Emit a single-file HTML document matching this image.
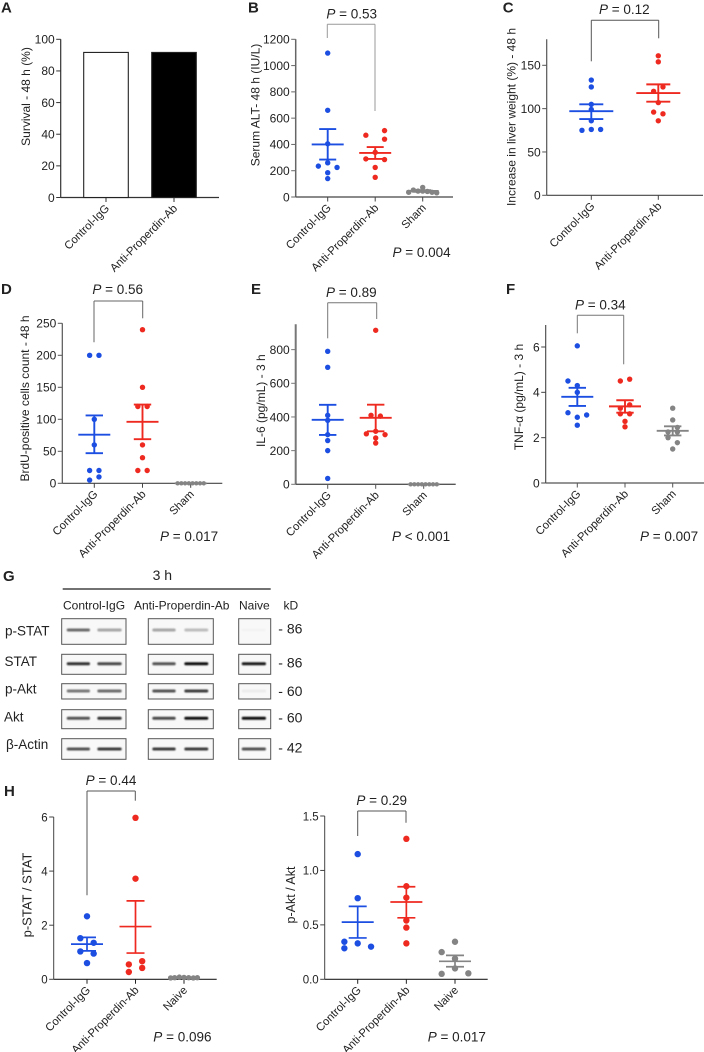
<!DOCTYPE html>
<html lang="en">
<head>
<meta charset="utf-8">
<title>Anti-Properdin antibody results</title>
<style>
html,body{margin:0;padding:0;background:#fff}
#figure{display:block;width:704px;height:1052px;font-family:"Liberation Sans","DejaVu Sans",sans-serif}
</style>
</head>
<body>
<svg id="figure" xmlns="http://www.w3.org/2000/svg" width="704" height="1052" viewBox="0 0 704 1052">
<defs><filter id="band-blur" x="-10%" y="-150%" width="120%" height="400%"><feGaussianBlur stdDeviation="0.9"/></filter></defs>
</svg>
<script>
// Panel A
const aCategories = ['Control-IgG', 'Anti-Properdin-Ab'];
const aValues = [91.7, 91.7];
const aTicks = [0, 20, 40, 60, 80, 100];
// Panel B
const bCategories = ['Control-IgG', 'Anti-Properdin-Ab', 'Sham'];
const bControl = [1095, 660, 405, 260, 235, 225, 185, 140];
const bControlSlots = [0, 0, 0, 0, -2, 2, 0, 0];
const bAnti = [505, 470, 440, 340, 290, 285, 225, 150];
const bAntiSlots = [2, -2, 2, 0, -2, 2, 0, 0];
const bSham = [36, 53, 45, 45, 73, 42, 36, 32];
const bShamSlots = [-3, -2, -1, 0, 0, 1, 2, 3];
const bMeans = [400, 335, 46];
const bLow = [285, 290, 40];
const bHigh = [517, 380, 52];
const bTicks = [0, 200, 400, 600, 800, 1000, 1200];
// Panel C
const cCategories = ['Control-IgG', 'Anti-Properdin-Ab'];
const cControl = [133, 125, 105, 99, 86, 76, 76, 75];
const cControlSlots = [0, 0, 0, 0, 0, 0, 2, -2];
const cAnti = [161, 154, 125, 120, 107, 96, 94, 86];
const cAntiSlots = [0, 0, 1, -1, 0, -1, 1, 0];
const cMeans = [97, 118];
const cLow = [88, 108];
const cHigh = [105, 128];
const cTicks = [0, 50, 100, 150];
// Panel D
const dCategories = ['Control-IgG', 'Anti-Properdin-Ab', 'Sham'];
const dControl = [200, 200, 100, 60, 20, 20, 10, 5];
const dControlSlots = [-1, 1, 0, 0, -1, 1, 1, -1];
const dAnti = [240, 150, 120, 120, 60, 40, 20, 20];
const dAntiSlots = [0, 0, -1, 1, 0, 0, -1, 1];
const dSham = [0, 0, 0, 0, 0, 0, 0, 0];
const dShamSlots = [-2.8, -2, -1.2, -0.4, 0.4, 1.2, 2, 2.8];
const dMeans = [76, 96, 0];
const dLow = [47, 69, 0];
const dHigh = [106, 123, 0];
const dTicks = [0, 50, 100, 150, 200, 250];
// Panel E
const eCategories = ['Control-IgG', 'Anti-Properdin-Ab', 'Sham'];
const eControl = [790, 695, 410, 380, 295, 260, 200, 35];
const eControlSlots = [0, 0, 0, 0, 0, 0, 0, 0];
const eAnti = [915, 410, 405, 315, 300, 295, 275, 245];
const eAntiSlots = [0, -1, 1, 0, -2, 2, 0, 0];
const eSham = [0, 0, 0, 0, 0, 0, 0, 0];
const eShamSlots = [-2.8, -2, -1.2, -0.4, 0.4, 1.2, 2, 2.8];
const eMeans = [383, 395, 0];
const eLow = [293, 315, 0];
const eHigh = [472, 473, 0];
const eTicks = [0, 200, 400, 600, 800];
// Panel F
const fCategories = ['Control-IgG', 'Anti-Properdin-Ab', 'Sham'];
const fControl = [6.05, 4.5, 4.3, 4.0, 3.1, 3.0, 2.9, 2.55];
const fControlSlots = [0, -2, 0, 0, -2, 2, 0, 0];
const fAnti = [4.58, 4.5, 3.45, 3.3, 3.05, 3.05, 2.72, 2.48];
const fAntiSlots = [1, -1, 1, -1, -1, 1, 0, 0];
const fSham = [3.3, 2.78, 2.45, 2.25, 2.25, 2.0, 1.78, 1.5];
const fShamSlots = [0, 0, 1, 1, -1, -1, 1, 0];
const fMeans = [3.8, 3.38, 2.3];
const fLow = [3.4, 3.1, 2.1];
const fHigh = [4.2, 3.65, 2.5];
const fTicks = [0, 2, 4, 6];
// Panel H, left
const h1Categories = ['Control-IgG', 'Anti-Properdin-Ab', 'Naive'];
const h1Control = [2.33, 1.52, 1.35, 1.03, 0.95, 0.6];
const h1ControlSlots = [0, -1, 1, -1, 1, 0];
const h1Anti = [5.97, 3.72, 0.67, 0.55, 0.42, 0.27];
const h1AntiSlots = [0, 0, 1, -1, 1, -1];
const h1Naive = [0.05, 0.06, 0.08, 0.07, 0.06, 0.05, 0.06];
const h1NaiveSlots = [-2, -1.4, -0.7, 0, 0.7, 1.4, 2];
const h1Means = [1.3, 1.95, 0.06];
const h1Low = [1.05, 0.97, 0.05];
const h1High = [1.55, 2.9, 0.07];
const h1Ticks = [0, 2, 4, 6];
// Panel H, right
const h2Categories = ['Control-IgG', 'Anti-Properdin-Ab', 'Naive'];
const h2Control = [1.15, 0.745, 0.345, 0.33, 0.3, 0.285];
const h2ControlSlots = [0, 0, -2, 0, 2, -2];
const h2Anti = [1.29, 0.855, 0.75, 0.54, 0.475, 0.33];
const h2AntiSlots = [0, 0, 0, 0, 0, 0];
const h2Naive = [0.345, 0.25, 0.19, 0.1, 0.05, 0.055];
const h2NaiveSlots = [0, -2, 0, 0, -2, 2];
const h2Means = [0.525, 0.71, 0.165];
const h2Low = [0.38, 0.565, 0.115];
const h2High = [0.67, 0.85, 0.22];
const h2Ticks = ['0.0', '0.5', '1.0', '1.5'];
// Panel G, band intensity per lane
const blotRowNames = ['p-STAT', 'STAT', 'p-Akt', 'Akt', 'β-Actin'];
const blotSizes = ['- 86', '- 86', '- 60', '- 60', '- 42'];
const pStatBands = [0.6, 0.35, 0.35, 0.25, 0.02];
const statBands = [0.85, 0.75, 0.7, 1, 0.95];
const pAktBands = [0.55, 0.6, 0.7, 0.8, 0.05];
const aktBands = [0.7, 0.85, 0.75, 1, 1];
const actinBands = [0.7, 0.8, 0.8, 0.8, 0.7];

const svg = document.getElementById('figure');
const NS = 'http://www.w3.org/2000/svg';
const BLUE = '#1c4ee2', RED = '#ee2a20', GRAY = '#848484';

function line(parent, x1, y1, x2, y2, color, w, name) {
  const el = document.createElementNS(NS, 'line');
  
  
  el.setAttribute('x1', x1); el.setAttribute('y1', y1);
  el.setAttribute('x2', x2); el.setAttribute('y2', y2);
  el.setAttribute('stroke', color); el.setAttribute('stroke-width', w);
  parent.appendChild(el);
  return el;
}
function text(parent, x, y, str, size, name, anchor, rotate, weight) {
  const el = document.createElementNS(NS, 'text');
  
  
  el.setAttribute('x', x); el.setAttribute('y', y);
  el.setAttribute('font-size', size);
  el.setAttribute('fill', '#222');
  el.setAttribute('text-anchor', anchor || 'start');
  if (rotate) el.setAttribute('transform', 'rotate(' + rotate + ' ' + x + ' ' + y + ')');
  if (weight) el.setAttribute('font-weight', weight);
  el.textContent = str;
  parent.appendChild(el);
  return el;
}
function pText(parent, x, y, rest, anchor, name) {
  const el = text(parent, x, y, '', 13.5, name, anchor);
  const p = document.createElementNS(NS, 'tspan');
  p.setAttribute('font-style', 'italic');
  p.textContent = 'P';
  el.appendChild(p);
  el.appendChild(document.createTextNode(' ' + rest));
  return el;
}
function group(name) {
  const g = document.createElementNS(NS, 'g');
  
  
  svg.appendChild(g);
  return g;
}
function axes(g, c, ticks, categories) {
  const yOf = v => c.y0 - (v / c.max) * (c.y0 - c.yTop);
  const xOf = i => c.x1 + i * c.step;
  line(g, c.x0, c.yTop, c.x0, c.y0, c.yColor, c.yW, 'y-axis');
  line(g, c.x0, c.y0, c.xEnd, c.y0, c.xColor, c.xW, 'x-axis');
  ticks.forEach(t => {
    const y = yOf(+t);
    line(g, c.x0 - 4.5, y, c.x0, y, c.yColor, 1, 'y-tick');
    text(g, c.x0 - 6, y + 4.3, String(t), c.tickSize || 12, 'y-tick-label', 'end');
  });
  categories.forEach((n, i) => {
    const x = xOf(i);
    line(g, x, c.y0, x, c.y0 + 4.5, c.xColor, 1, 'x-tick');
    text(g, x + 4, c.y0 + 11.5, n, 11.3, 'x-category-label', 'end', -45);
  });
  text(g, c.labelX, c.labelY, c.label, c.labelSize || 12, 'y-axis-title', 'middle', -90);
  return { xOf, yOf };
}
function series(g, scale, c, i, values, slots, color, r, name) {
  values.forEach((v, k) => {
    const dot = document.createElementNS(NS, 'circle');
    
    
    dot.setAttribute('cx', scale.xOf(i) + slots[k] * c.slot);
    dot.setAttribute('cy', scale.yOf(v));
    dot.setAttribute('r', r);
    dot.setAttribute('fill', color);
    g.appendChild(dot);
  });
}
function summary(g, scale, c, i, mean, low, high, color, name) {
  const x = scale.xOf(i);
  const w = c.lineW || 1.9;
  line(g, x, scale.yOf(low), x, scale.yOf(high), color, w, name + '-error-bar');
  line(g, x - c.capHalf, scale.yOf(high), x + c.capHalf, scale.yOf(high), color, w, name + '-error-cap-upper');
  line(g, x - c.capHalf, scale.yOf(low), x + c.capHalf, scale.yOf(low), color, w, name + '-error-cap-lower');
  line(g, x - c.meanHalf, scale.yOf(mean), x + c.meanHalf, scale.yOf(mean), color, w, name + '-mean-line');
}
function bracket(g, c) {
  const b = c.bracket;
  line(g, b.x1, b.top, b.x2, b.top, b.color, 1, 'bracket-top');
  line(g, b.x1, b.top, b.x1, b.y1, b.color, 1, 'bracket-left');
  line(g, b.x2, b.top, b.x2, b.y2, b.color, 1, 'bracket-right');
  pText(g, b.tx, b.ty, '= ' + b.p, 'middle', 'pairwise-p-value');
}
function panelLetter(g, x, y, s) {
  if (s) text(g, x, y, s, 15, 'panel-letter', 'start', 0, 'bold');
}
function scatterPanel(name, letter, c, ticks, categories, groups, means, lows, highs) {
  const g = group(name);
  panelLetter(g, letter[1], letter[2], letter[0]);
  const scale = axes(g, c, ticks, categories);
  groups.forEach((gr, i) => series(g, scale, c, i, gr[0], gr[1], gr[2], gr[3] || c.r, gr[4]));
  groups.forEach((gr, i) => summary(g, scale, c, i, means[i], lows[i], highs[i], gr[2], gr[4]));
  bracket(g, c);
  if (c.overall) pText(g, c.overall[0], c.overall[1], c.overall[2], 'start', 'overall-p-value');
}

// Panel A
(function () {
  const g = group('panel-a-survival-chart');
  panelLetter(g, 1, 12.5, 'A');
  const c = { x0: 60.7, y0: 197.5, yTop: 39.3, max: 100, xEnd: 219, x1: 106, step: 68, yColor: '#333', xColor: '#333', yW: 1.2, xW: 1.2,
    labelX: 30, labelY: 96.5, label: 'Survival - 48 h (%)' };
  const scale = axes(g, c, aTicks, aCategories);
  const fills = ['#fff', '#000'];
  aValues.forEach((v, i) => {
    const bar = document.createElementNS(NS, 'rect');
    
    
    bar.setAttribute('x', scale.xOf(i) - 22.3);
    bar.setAttribute('y', scale.yOf(v));
    bar.setAttribute('width', 44.6);
    bar.setAttribute('height', c.y0 - scale.yOf(v));
    bar.setAttribute('fill', fills[i]);
    bar.setAttribute('stroke', '#222');
    bar.setAttribute('stroke-width', 1.1);
    g.appendChild(bar);
  });
})();

scatterPanel('panel-b-serum-alt-chart', ['B', 248, 12.5], {
  x0: 295.7, y0: 197, yTop: 39.3, max: 1200, xEnd: 453, x1: 327.7, step: 47.5, slot: 4.67, r: 2.7,
  yColor: '#666', xColor: '#444', yW: 1.5, xW: 1.2, meanHalf: 16, capHalf: 8.5,
  labelX: 259.5, labelY: 105, label: 'Serum ALT- 48 h (IU/L)',
  bracket: { x1: 327.3, x2: 375, top: 24.3, y1: 38, y2: 111, color: '#999', tx: 351.7, ty: 18.5, p: '0.53' },
  overall: [392.5, 257, '= 0.004']
}, bTicks, bCategories, [
  [bControl, bControlSlots, BLUE, 0, 'control-igg'],
  [bAnti, bAntiSlots, RED, 0, 'anti-properdin-ab'],
  [bSham, bShamSlots, GRAY, 0, 'sham']
], bMeans, bLow, bHigh);

scatterPanel('panel-c-liver-weight-chart', ['C', 502.7, 12.5], {
  x0: 546.7, y0: 195.3, yTop: 39.3, max: 180, xEnd: 703, x1: 591.3, step: 67, slot: 4.67, r: 2.7,
  yColor: '#555', xColor: '#444', yW: 1.2, xW: 1.2, meanHalf: 22, capHalf: 12,
  labelX: 515.5, labelY: 117, label: 'Increase in liver weight (%) - 48 h',
  bracket: { x1: 591.3, x2: 658.7, top: 20.3, y1: 61.3, y2: 38.3, color: '#555', tx: 624.3, ty: 14, p: '0.12' }
}, cTicks, cCategories, [
  [cControl, cControlSlots, BLUE, 0, 'control-igg'],
  [cAnti, cAntiSlots, RED, 0, 'anti-properdin-ab']
], cMeans, cLow, cHigh);

scatterPanel('panel-d-brdu-chart', ['D', 1, 294], {
  x0: 62.3, y0: 483.3, yTop: 323.3, max: 250, xEnd: 222.3, x1: 94.3, step: 48.2, slot: 4.67, r: 2.7,
  yColor: '#555', xColor: '#444', yW: 1.2, xW: 1.2, meanHalf: 16, capHalf: 8.7,
  labelX: 29, labelY: 398.5, label: 'BrdU-positive cells count - 48 h',
  bracket: { x1: 94, x2: 142.7, top: 301, y1: 342.3, y2: 318.3, color: '#666', tx: 117.7, ty: 294, p: '0.56' },
  overall: [160, 541, '= 0.017']
}, dTicks, dCategories, [
  [dControl, dControlSlots, BLUE, 0, 'control-igg'],
  [dAnti, dAntiSlots, RED, 0, 'anti-properdin-ab'],
  [dSham, dShamSlots, GRAY, 2.2, 'sham']
], dMeans, dLow, dHigh);

scatterPanel('panel-e-il6-chart', ['E', 251, 294], {
  x0: 295.7, y0: 484.3, yTop: 324.3, max: 950.5, xEnd: 455.7, x1: 327.7, step: 48, slot: 4.67, r: 2.7,
  yColor: '#777', xColor: '#555', yW: 2, xW: 1.3, meanHalf: 16, capHalf: 8.7,
  labelX: 265, labelY: 400.7, label: 'IL-6 (pg/mL) - 3 h',
  bracket: { x1: 327.7, x2: 376.7, top: 302.7, y1: 338.3, y2: 319, color: '#777', tx: 351.3, ty: 297, p: '0.89' },
  overall: [392, 541, '< 0.001']
}, eTicks, eCategories, [
  [eControl, eControlSlots, BLUE, 0, 'control-igg'],
  [eAnti, eAntiSlots, RED, 0, 'anti-properdin-ab'],
  [eSham, eShamSlots, GRAY, 2.2, 'sham']
], eMeans, eLow, eHigh);

scatterPanel('panel-f-tnf-chart', ['F', 506, 294], {
  x0: 545.7, y0: 483, yTop: 325, max: 6.97, xEnd: 704, x1: 577.3, step: 47.7, slot: 4.67, r: 2.7,
  yColor: '#444', xColor: '#555', yW: 1.1, xW: 1.3, meanHalf: 16, capHalf: 8.7,
  labelX: 523, labelY: 397, label: 'TNF-α (pg/mL) - 3 h',
  bracket: { x1: 577.3, x2: 623.7, top: 315.3, y1: 333.3, y2: 364.3, color: '#777', tx: 600.3, ty: 309.5, p: '0.34' },
  overall: [640, 541, '= 0.007']
}, fTicks, fCategories, [
  [fControl, fControlSlots, BLUE, 0, 'control-igg'],
  [fAnti, fAntiSlots, RED, 0, 'anti-properdin-ab'],
  [fSham, fShamSlots, GRAY, 0, 'sham']
], fMeans, fLow, fHigh);

// Panel G: western blots
(function () {
  const g = group('panel-g-western-blots');
  panelLetter(g, 3, 581, 'G');
  text(g, 162.3, 580, '3 h', 14, 'time-point-label', 'middle');
  line(g, 62.7, 589, 270.7, 589, '#444', 1.4, 'time-point-rule');
  text(g, 63, 609.3, 'Control-IgG', 12, 'lane-group-control-igg');
  text(g, 134, 609.3, 'Anti-Properdin-Ab', 12, 'lane-group-anti-properdin-ab');
  text(g, 239, 609.3, 'Naive', 12, 'lane-group-naive');
  text(g, 283.5, 609.3, 'kD', 12, 'kilodalton-header');
  const boxes = [[618.7, 644.3], [654.3, 674.3], [683.7, 699], [709.7, 728.7], [738.7, 759.3]];
  const cols = [[61.7, 126], [148.3, 213.3], [238.7, 270.7]];
  const lanes = [[66.7, 90, 0], [97.3, 121.7, 0], [152.3, 175.7, 1], [184.3, 208.3, 1], [241.7, 266, 2]];
  const bandY = [630, 663.7, 691, 718.3, 749];
  const labelY = [635.7, 666, 693.7, 721.7, 749];
  const sizeY = [633.3, 667.3, 696, 722.7, 752.3];
  const labelX = [5, 4.5, 5, 4, 6];
  const intensities = [pStatBands, statBands, pAktBands, aktBands, actinBands];
  blotRowNames.forEach((n, r) => {
    text(g, labelX[r], labelY[r], n, 13.5, 'blot-row-label');
    text(g, 278.3, sizeY[r], blotSizes[r], 14, 'molecular-weight-label');
    cols.forEach(col => {
      const box = document.createElementNS(NS, 'rect');
      
      
      box.setAttribute('x', col[0]);
      box.setAttribute('y', boxes[r][0]);
      box.setAttribute('width', col[1] - col[0]);
      box.setAttribute('height', boxes[r][1] - boxes[r][0]);
      box.setAttribute('fill', '#f8f8f8');
      box.setAttribute('stroke', '#555');
      box.setAttribute('stroke-width', 1);
      g.appendChild(box);
    });
    lanes.forEach((lane, k) => {
      const band = document.createElementNS(NS, 'rect');
      
      
      band.setAttribute('x', lane[0]);
      band.setAttribute('y', bandY[r] - 1.5);
      band.setAttribute('width', lane[1] - lane[0]);
      band.setAttribute('height', 3);
      band.setAttribute('rx', 1.5);
      band.setAttribute('fill', '#111');
      band.setAttribute('opacity', intensities[r][k]);
      band.setAttribute('filter', 'url(#band-blur)');
      g.appendChild(band);
    });
  });
})();

scatterPanel('panel-h-pstat-chart', ['H', 4, 796], {
  x0: 53.7, y0: 979.3, yTop: 817, max: 6, xEnd: 216.7, x1: 87, step: 48.5, slot: 6.67, r: 3.2,
  yColor: '#444', xColor: '#222', yW: 1, xW: 1.2, meanHalf: 16, capHalf: 9, lineW: 1.7, tickSize: 11.5,
  labelX: 31.5, labelY: 895, label: 'p-STAT / STAT', labelSize: 13,
  bracket: { x1: 87, x2: 135.3, top: 791, y1: 895.3, y2: 800.7, color: '#555', tx: 111, ty: 785, p: '0.44' },
  overall: [153.3, 1041.7, '= 0.096']
}, h1Ticks, h1Categories, [
  [h1Control, h1ControlSlots, BLUE, 0, 'control-igg'],
  [h1Anti, h1AntiSlots, RED, 0, 'anti-properdin-ab'],
  [h1Naive, h1NaiveSlots, GRAY, 2.7, 'naive']
], h1Means, h1Low, h1High);

scatterPanel('panel-h-pakt-chart', ['', 300, 796], {
  x0: 324.7, y0: 979.3, yTop: 816, max: 1.5, xEnd: 487.7, x1: 357.7, step: 48.65, slot: 6.67, r: 3.2,
  yColor: '#444', xColor: '#222', yW: 1, xW: 1.2, meanHalf: 16, capHalf: 9, lineW: 1.7, tickSize: 11.5,
  labelX: 295, labelY: 895, label: 'p-Akt / Akt', labelSize: 12.5,
  bracket: { x1: 357.7, x2: 406, top: 811, y1: 836, y2: 822.7, color: '#555', tx: 381.7, ty: 805, p: '0.29' },
  overall: [427.7, 1041.7, '= 0.017']
}, h2Ticks, h2Categories, [
  [h2Control, h2ControlSlots, BLUE, 0, 'control-igg'],
  [h2Anti, h2AntiSlots, RED, 0, 'anti-properdin-ab'],
  [h2Naive, h2NaiveSlots, GRAY, 0, 'naive']
], h2Means, h2Low, h2High);
</script>
</body>
</html>
